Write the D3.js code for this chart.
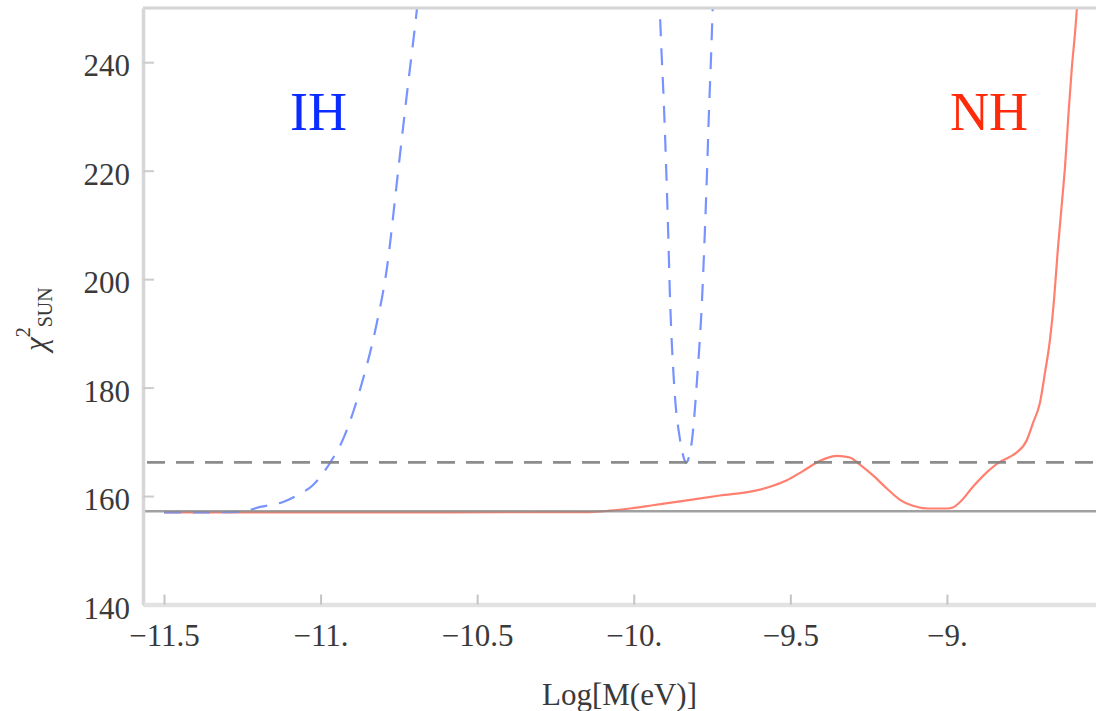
<!DOCTYPE html>
<html>
<head>
<meta charset="utf-8">
<script src="https://cdn.jsdelivr.net/npm/d3@7"></script>
<style>
  body { margin: 0; background: #fff; }
  svg { display: block; }
</style>
</head>
<body>
<svg id="chart" width="1096" height="711"></svg>
<script>
// Axis ticks
const xTicks = [-11.5, -11, -10.5, -10, -9.5, -9];
const xTickLabels = ["\u221211.5", "\u221211.", "\u221210.5", "\u221210.", "\u22129.5", "\u22129."];
const yTicks = [140, 160, 180, 200, 220, 240];

// Reference levels: best fit and best fit + 9
const chi2Min = 157.2;
const chi2Bound = 166.2;

// Inverted hierarchy scan (null marks the stretch above the plotted range)
const ihLogM = [-11.5, -11.35, -11.256, -11.193, -11.120, -11.072, -11.024, -10.970, -10.925,
  -10.868, -10.823, -10.788, -10.753, -10.724, -10.692, -10.686,
  -10.3,
  -9.919, -9.913, -9.904, -9.897, -9.891, -9.884, -9.872, -9.852, -9.840, -9.833,
  -9.827, -9.814, -9.798, -9.782, -9.773, -9.766, -9.760, -9.753, -9.747];
const ihChi2 = [157.0, 157.0, 157.1, 158.0, 158.9, 160.2, 162.05, 166.1, 170.9,
  180.85, 191.2, 202.1, 219.6, 234.3, 250.0, 253.3,
  null,
  253.3, 244.1, 232.5, 221.4, 210.5, 196.2, 181.4, 170.3, 167.0, 166.1,
  166.6, 170.3, 181.4, 196.2, 208.7, 219.8, 230.6, 241.3, 251.5];

// Normal hierarchy scan
const nhLogM = [-11.5, -10.6, -10.14, -10.076, -10.012, -9.939, -9.830, -9.725, -9.619, -9.565,
  -9.511, -9.460, -9.405, -9.351, -9.310, -9.278, -9.236, -9.192, -9.150, -9.109,
  -9.060, -9.000, -8.981, -8.958, -8.917, -8.872, -8.831, -8.800, -8.778, -8.745,
  -8.725, -8.703, -8.687, -8.671, -8.658, -8.646, -8.632, -8.623, -8.611, -8.601,
  -8.591, -8.585, -8.582];
const nhChi2 = [157.0, 157.0, 157.05, 157.3, 157.7, 158.3, 159.2, 160.1, 160.9, 161.7,
  162.9, 164.6, 166.5, 167.4, 167.1, 165.8, 163.8, 161.4, 159.3, 158.2,
  157.7, 157.7, 157.9, 158.9, 161.7, 164.4, 166.3, 167.2, 168.0, 170.3,
  173.5, 177.2, 182.7, 188.8, 196.2, 205.4, 214.6, 220.7, 231.2, 239.1,
  245.4, 250.0, 253.3];

const serif = "'Liberation Serif', 'Times New Roman', 'DejaVu Serif', serif";

const svg = d3.select("#chart");
const plotLeft = 143, plotRight = 1096, plotTop = 8, plotBottom = 604.5;

const x = d3.scaleLinear().domain([-11.567, -8.524]).range([plotLeft, plotRight]);
const y = d3.scaleLinear().domain([140, 250]).range([plotBottom, plotTop]);

svg.append("defs").append("clipPath").attr("id", "plot-clip")
  .append("rect")
  .attr("x", plotLeft).attr("y", plotTop)
  .attr("width", plotRight - plotLeft).attr("height", plotBottom - plotTop);

const plot = svg.append("g").attr("clip-path", "url(#plot-clip)");

const line = d3.line()
  .defined(d => d[1] != null)
  .x(d => x(d[0]))
  .y(d => y(d[1]))
  .curve(d3.curveMonotoneX);

// NH curve
plot.append("path")
  .datum(nhLogM.map((m, i) => [m, nhChi2[i]]))
  .attr("d", line)
  .attr("fill", "none")
  .attr("stroke", "#ff8070")
  .attr("stroke-width", 2.2);

// IH curve
plot.append("path")
  .datum(ihLogM.map((m, i) => [m, ihChi2[i]]))
  .attr("d", line)
  .attr("fill", "none")
  .attr("stroke", "#7893ff")
  .attr("stroke-width", 2.2)
  .attr("stroke-dasharray", "17,12");

// Best-fit level
plot.append("line")
  .attr("x1", plotLeft).attr("x2", plotRight)
  .attr("y1", y(chi2Min)).attr("y2", y(chi2Min))
  .attr("stroke", "#8a8a8a")
  .attr("stroke-opacity", 0.8)
  .attr("stroke-width", 2.6);

// Best fit + 9 level
plot.append("line")
  .attr("x1", plotLeft).attr("x2", plotRight)
  .attr("y1", y(chi2Bound)).attr("y2", y(chi2Bound))
  .attr("stroke", "#7f7f7f")
  .attr("stroke-opacity", 0.9)
  .attr("stroke-width", 2.6)
  .attr("stroke-dasharray", "18,11")
  .attr("stroke-dashoffset", 25);

// Top frame
svg.append("line")
  .attr("x1", plotLeft).attr("x2", plotRight)
  .attr("y1", plotTop).attr("y2", plotTop)
  .attr("stroke", "#d4d4d4")
  .attr("stroke-width", 3);

// Axes
const yAxis = d3.axisLeft(y)
  .tickValues(yTicks)
  .tickSizeInner(-11)
  .tickSizeOuter(0)
  .tickPadding(13);

const gy = svg.append("g").attr("transform", `translate(${plotLeft},0)`).call(yAxis)
  .attr("font-family", serif);
gy.select(".domain").attr("stroke", "#d6d6d6").attr("stroke-width", 3.5);
gy.selectAll(".tick line").attr("stroke", "#cccccc").attr("stroke-width", 2);
gy.selectAll(".tick text")
  .attr("dy", "0.44em")
  .attr("fill", "#3a3a3a")
  .attr("font-family", serif)
  .style("font-family", serif)
  .style("font-size", "31px");

const xAxis = d3.axisBottom(x)
  .tickValues(xTicks)
  .tickFormat((d, i) => xTickLabels[i])
  .tickSizeInner(-10)
  .tickSizeOuter(0)
  .tickPadding(19);

const gx = svg.append("g").attr("transform", `translate(0,${plotBottom})`).call(xAxis)
  .attr("font-family", serif);
gx.select(".domain").attr("stroke", "#e2e2e2").attr("stroke-width", 4.5);
gx.selectAll(".tick line").attr("stroke", "#c4c4c4").attr("stroke-width", 2);
gx.selectAll(".tick text")
  .attr("fill", "#3a3a3a")
  .attr("font-family", serif)
  .style("font-family", serif)
  .style("font-size", "31px");

// Axis titles
svg.append("text")
  .attr("x", (plotLeft + plotRight) / 2)
  .attr("y", 705)
  .attr("text-anchor", "middle")
  .attr("fill", "#3a3a3a")
  .style("font-family", serif)
  .style("font-size", "31px")
  .text("Log[M(eV)]");

const yTitle = svg.append("text")
  .attr("transform", "translate(46,351) rotate(-90)")
  .attr("fill", "#3a3a3a")
  .style("font-family", serif);
yTitle.append("tspan").style("font-style", "italic").style("font-size", "31px").text("\u03c7");
yTitle.append("tspan").attr("dy", -16).style("font-size", "20px").text("2");
yTitle.append("tspan").attr("dy", 22).style("font-size", "20px").text("SUN");

// Hierarchy labels
svg.append("text")
  .attr("x", 290).attr("y", 130)
  .attr("fill", "#0a2cff")
  .style("font-family", serif)
  .style("font-size", "54px")
  .text("IH");

svg.append("text")
  .attr("x", 950).attr("y", 130)
  .attr("fill", "#ff2a0a")
  .style("font-family", serif)
  .style("font-size", "54px")
  .text("NH");
</script>
</body>
</html>
